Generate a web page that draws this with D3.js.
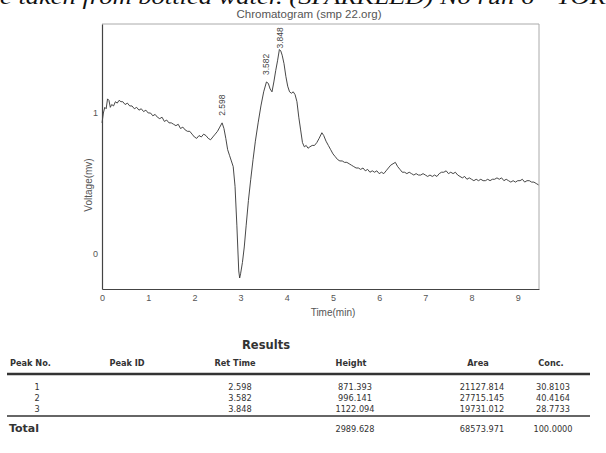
<!DOCTYPE html>
<html><head><meta charset="utf-8">
<script src="https://cdn.jsdelivr.net/npm/d3@7"></script>
<style>body{margin:0;background:#fff}svg{display:block}</style>
</head><body>
<script>
const timeMin = [0.00,0.03,0.06,0.09,0.12,0.15,0.18,0.21,0.25,0.29,0.33,0.37,0.41,0.45,0.50,0.55,0.60,0.65,0.70,0.75,0.80,0.85,0.90,0.95,1.00,1.05,1.10,1.15,1.20,1.25,1.30,1.35,1.40,1.45,1.50,1.55,1.60,1.65,1.70,1.75,1.80,1.85,1.90,1.95,2.00,2.05,2.10,2.15,2.20,2.25,2.30,2.35,2.40,2.45,2.50,2.55,2.60,2.64,2.68,2.72,2.76,2.80,2.84,2.88,2.92,2.96,2.98,3.00,3.04,3.08,3.12,3.17,3.22,3.27,3.32,3.38,3.44,3.50,3.56,3.60,3.64,3.68,3.72,3.76,3.80,3.84,3.87,3.90,3.94,3.98,4.02,4.06,4.10,4.14,4.18,4.22,4.26,4.30,4.34,4.38,4.42,4.46,4.50,4.55,4.60,4.65,4.70,4.76,4.80,4.85,4.90,4.95,5.00,5.05,5.10,5.15,5.20,5.25,5.30,5.35,5.40,5.45,5.50,5.55,5.60,5.65,5.70,5.75,5.80,5.85,5.90,5.95,6.00,6.05,6.10,6.15,6.20,6.25,6.30,6.35,6.40,6.45,6.50,6.55,6.60,6.65,6.70,6.75,6.80,6.85,6.90,6.95,7.00,7.05,7.10,7.15,7.20,7.25,7.30,7.35,7.40,7.45,7.50,7.55,7.60,7.65,7.70,7.75,7.80,7.85,7.90,7.95,8.00,8.05,8.10,8.15,8.20,8.25,8.30,8.35,8.40,8.45,8.50,8.55,8.60,8.65,8.70,8.75,8.80,8.85,8.90,8.95,9.00,9.05,9.10,9.15,9.20,9.25,9.30,9.35,9.40,9.45];
const voltage = [0.93,1.00,1.04,1.03,1.10,1.09,1.04,1.06,1.05,1.08,1.07,1.09,1.08,1.08,1.06,1.07,1.05,1.05,1.03,1.04,1.02,1.03,1.01,1.02,1.00,1.00,0.98,0.99,0.97,0.96,0.97,0.94,0.95,0.93,0.93,0.92,0.91,0.92,0.89,0.90,0.88,0.87,0.87,0.85,0.83,0.82,0.84,0.83,0.85,0.84,0.82,0.81,0.83,0.85,0.87,0.90,0.93,0.89,0.82,0.74,0.70,0.66,0.62,0.48,0.20,-0.12,-0.17,-0.14,-0.06,0.05,0.20,0.38,0.53,0.67,0.80,0.93,1.05,1.15,1.22,1.21,1.17,1.15,1.22,1.30,1.37,1.45,1.44,1.41,1.35,1.26,1.19,1.15,1.14,1.15,1.13,1.08,0.97,0.88,0.79,0.76,0.77,0.75,0.76,0.77,0.77,0.79,0.82,0.86,0.84,0.80,0.77,0.74,0.71,0.69,0.67,0.66,0.66,0.65,0.65,0.64,0.63,0.62,0.61,0.61,0.60,0.61,0.59,0.60,0.58,0.59,0.58,0.59,0.57,0.58,0.57,0.59,0.61,0.63,0.64,0.65,0.62,0.60,0.58,0.58,0.57,0.58,0.57,0.56,0.57,0.56,0.56,0.57,0.56,0.55,0.56,0.55,0.56,0.55,0.57,0.58,0.58,0.59,0.57,0.58,0.57,0.58,0.56,0.55,0.54,0.55,0.53,0.54,0.53,0.52,0.53,0.52,0.53,0.52,0.52,0.53,0.52,0.53,0.53,0.54,0.53,0.54,0.52,0.53,0.52,0.51,0.52,0.51,0.52,0.52,0.53,0.51,0.52,0.52,0.51,0.51,0.50,0.49];

const peakTimes = ["2.598","3.582","3.848"];
const peakLabelTime = [2.60, 3.56, 3.845];
const peakLabelVolt = [0.93, 1.22, 1.45];
const xTicks = [0,1,2,3,4,5,6,7,8,9];
const yTicks = [0,1];

const tableHeaders = ["Peak No.","Peak ID","Ret Time","Height","Area","Conc."];
const peakNo = ["1","2","3"];
const retTime = ["2.598","3.582","3.848"];
const heights = ["871.393","996.141","1122.094"];
const areas = ["21127.814","27715.145","19731.012"];
const concs = ["30.8103","40.4164","28.7733"];
const totals = ["2989.628","68573.971","100.0000"];

const W = 606, H = 453;
const svg = d3.select("body").append("svg").attr("width", W).attr("height", H);

// cut-off document text at top
svg.append("text").attr("x", 0).attr("y", 4)
  .attr("font-family", "Liberation Serif").attr("font-style", "italic").attr("font-size", 22)
  .attr("textLength", 606).attr("lengthAdjust", "spacingAndGlyphs").attr("fill", "#111")
  .text("e taken from bottled water. (SPARKLED) No run 6 - TOR");

const L = 102, R = 539, T = 24, B = 289;
const x = d3.scaleLinear().domain([0, 9.46]).range([L, R]);
const y = d3.scaleLinear().domain([-0.248, 1.631]).range([B, T]);

svg.append("text").attr("x", 309).attr("y", 18).attr("text-anchor", "middle")
  .attr("font-family", "Liberation Sans").attr("font-size", 11.5).attr("fill", "#555")
  .text("Chromatogram (smp 22.org)");

// frame
svg.append("line").attr("x1", L).attr("x2", R).attr("y1", T).attr("y2", T).attr("stroke", "#aaa");
svg.append("line").attr("x1", R).attr("x2", R).attr("y1", T).attr("y2", B).attr("stroke", "#aaa");

const line = d3.line().x((d, i) => x(timeMin[i])).y(d => y(d));
svg.append("path").datum(voltage).attr("d", line).attr("fill", "none")
  .attr("stroke", "#333").attr("stroke-width", 0.9).attr("stroke-linejoin", "round");

const xAxis = svg.append("g").attr("transform", `translate(0,${B})`)
  .call(d3.axisBottom(x).tickValues(xTicks).tickSize(0).tickPadding(6).tickFormat(d3.format("d")));
xAxis.select(".domain").attr("stroke", "#444").attr("stroke-width", 1.2);
xAxis.selectAll("text").attr("font-family", "Liberation Sans").attr("font-size", 9).attr("fill", "#555");

const yAxis = svg.append("g").attr("transform", `translate(${L},0)`)
  .call(d3.axisLeft(y).tickValues(yTicks).tickSize(0).tickPadding(4).tickFormat(d3.format("d")));
yAxis.select(".domain").attr("stroke", "#444").attr("stroke-width", 1.2);
yAxis.selectAll("text").attr("font-family", "Liberation Sans").attr("font-size", 9).attr("fill", "#555");

svg.append("text").attr("x", x(5)).attr("y", 316).attr("text-anchor", "middle")
  .attr("font-family", "Liberation Sans").attr("font-size", 10).attr("fill", "#555").text("Time(min)");
svg.append("text").attr("transform", `translate(92,185) rotate(-90)`).attr("text-anchor", "middle")
  .attr("font-family", "Liberation Sans").attr("font-size", 10).attr("fill", "#555").text("Voltage(mv)");

// peak labels
svg.selectAll(".pk").data(peakTimes).join("text")
  .attr("transform", (d, i) => `translate(${x(peakLabelTime[i]) + 3},${y(peakLabelVolt[i]) - (i === 2 ? 1 : 7)}) rotate(-90)`)
  .attr("font-family", "Liberation Sans").attr("font-size", 8.5).attr("fill", "#444")
  .text(d => d);

// Results table
const tf = "DejaVu Sans";
svg.append("text").attr("x", 266).attr("y", 349).attr("text-anchor", "middle")
  .attr("font-family", tf).attr("font-weight", "bold").attr("font-size", 11.5).attr("fill", "#333").text("Results");
const colX = [null, 127, 235, 351, 478, 551];
svg.selectAll(".hd").data(tableHeaders).join("text")
  .attr("x", (d, i) => i === 0 ? 10 : colX[i]).attr("y", 366)
  .attr("text-anchor", (d, i) => i === 0 ? "start" : "middle")
  .attr("font-family", tf).attr("font-weight", "bold").attr("font-size", 8.2).attr("fill", "#333").text(d => d);
svg.append("line").attr("x1", 7).attr("x2", 590).attr("y1", 374).attr("y2", 374).attr("stroke", "#333").attr("stroke-width", 2.4);

const rowY = [390, 401, 412];
const colVals = [[37, peakNo], [240, retTime], [355, heights], [482, areas], [553, concs]];
colVals.forEach(([cx, arr]) => {
  svg.selectAll(null).data(arr).join("text")
    .attr("x", cx).attr("y", (d, i) => rowY[i]).attr("text-anchor", "middle")
    .attr("font-family", tf).attr("font-size", 8.2).attr("fill", "#333").text(d => d);
});
svg.append("line").attr("x1", 7).attr("x2", 590).attr("y1", 416).attr("y2", 416).attr("stroke", "#333").attr("stroke-width", 1.4);
svg.append("text").attr("x", 9).attr("y", 432)
  .attr("font-family", tf).attr("font-weight", "bold").attr("font-size", 11).attr("fill", "#333").text("Total");
[355, 482, 553].forEach((cx, i) => {
  svg.append("text").attr("x", cx).attr("y", 432).attr("text-anchor", "middle")
    .attr("font-family", tf).attr("font-size", 8.2).attr("fill", "#333").text(totals[i]);
});
</script>
</body></html>
